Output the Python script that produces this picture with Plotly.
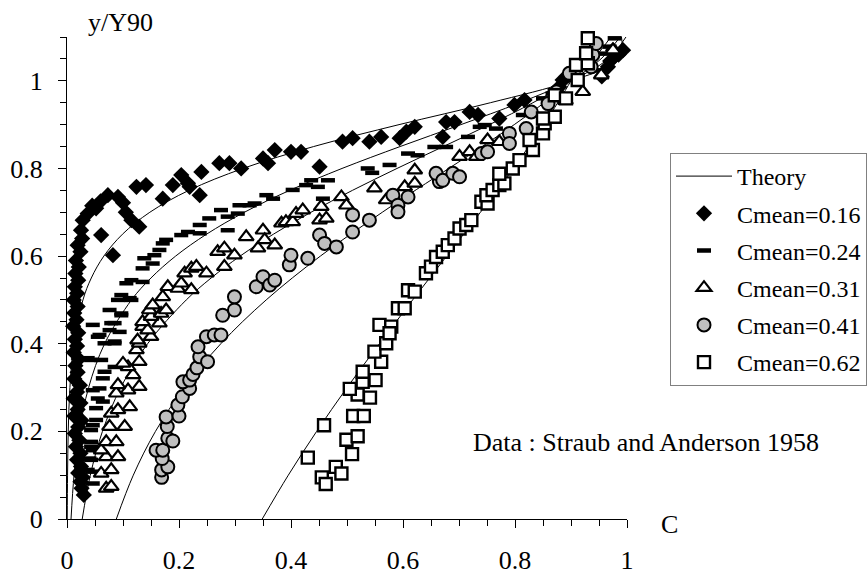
import plotly.graph_objects as go

FONT = "Liberation Serif, Times New Roman, serif"

# ---- Theory curves (y/Y90 levels and C values) ----
theory_y_a = [0, 0.1, 0.2, 0.3, 0.4, 0.5, 0.55, 0.6, 0.65, 0.7, 0.75, 0.8, 0.85, 0.9, 0.95, 1.0, 1.05, 1.1]
theory_c_016 = [0.0004, 0.001, 0.0022, 0.0052, 0.0123, 0.0285, 0.0434, 0.0658, 0.0991, 0.1479, 0.2177, 0.3142, 0.4404, 0.5929, 0.7560, 0.9, 0.9872, 0.9901]
theory_c_024 = [0.0072, 0.0126, 0.0221, 0.0386, 0.0671, 0.1152, 0.1499, 0.1940, 0.2492, 0.3167, 0.3976, 0.4911, 0.5948, 0.7034, 0.8087, 0.9, 0.9663, 0.9981]
theory_c_031 = [0.0272, 0.0416, 0.0633, 0.0959, 0.1439, 0.2130, 0.2574, 0.3091, 0.3686, 0.4356, 0.5097, 0.5893, 0.6720, 0.7543, 0.8320, 0.9, 0.9535, 0.9878]
theory_y_b = [0, 0.1, 0.2, 0.3, 0.4, 0.5, 0.6, 0.7, 0.8, 0.85, 0.9, 0.95, 1.0, 1.05, 1.1]
theory_c_041 = [0.0881, 0.1184, 0.1580, 0.2095, 0.2747, 0.3557, 0.4525, 0.5630, 0.6818, 0.7412, 0.7986, 0.8522, 0.9, 0.9403, 0.9711]
theory_y_c = [0, 0.1, 0.2, 0.3, 0.4, 0.5, 0.6, 0.7, 0.8, 0.9, 1.0, 1.05, 1.1]
theory_c_062 = [0.3486, 0.3952, 0.4458, 0.5001, 0.5579, 0.6172, 0.6779, 0.7383, 0.7968, 0.8513, 0.9, 0.9215, 0.9408]

# ---- Data : Straub and Anderson 1958 ----
c016 = [0.030, 0.026, 0.024, 0.028, 0.020, 0.025, 0.018, 0.024, 0.016, 0.022, 0.014, 0.020, 0.026, 0.013,
        0.019, 0.024, 0.012, 0.018, 0.023, 0.013, 0.019, 0.015, 0.021, 0.012, 0.018, 0.014, 0.020, 0.011,
        0.017, 0.013, 0.019, 0.012, 0.018, 0.014, 0.020, 0.015, 0.021, 0.016, 0.024, 0.019, 0.027,
        0.025, 0.028, 0.037, 0.045, 0.052, 0.061, 0.060, 0.073, 0.082, 0.091, 0.100, 0.105, 0.115, 0.129,
        0.124, 0.141, 0.171, 0.189, 0.204, 0.216, 0.219, 0.237, 0.240, 0.272, 0.290, 0.311, 0.350, 0.359,
        0.371, 0.400, 0.418, 0.451, 0.492, 0.510, 0.540, 0.561, 0.594, 0.606, 0.621, 0.671, 0.677, 0.692,
        0.719, 0.734, 0.772, 0.799, 0.817, 0.879, 0.885, 0.955, 0.966, 0.970, 0.975, 0.985, 0.993]
y016 = [0.055, 0.070, 0.085, 0.095, 0.105, 0.120, 0.135, 0.150, 0.165, 0.180, 0.195, 0.210, 0.225, 0.235,
        0.250, 0.265, 0.275, 0.290, 0.305, 0.320, 0.335, 0.350, 0.365, 0.380, 0.395, 0.410, 0.425, 0.440,
        0.455, 0.470, 0.485, 0.500, 0.515, 0.530, 0.545, 0.560, 0.575, 0.590, 0.610, 0.625, 0.640,
        0.659, 0.682, 0.697, 0.715, 0.709, 0.648, 0.725, 0.739, 0.602, 0.735, 0.722, 0.700, 0.682, 0.667,
        0.758, 0.762, 0.731, 0.762, 0.785, 0.766, 0.758, 0.739, 0.792, 0.812, 0.812, 0.800, 0.823, 0.812,
        0.842, 0.838, 0.838, 0.804, 0.861, 0.869, 0.861, 0.872, 0.869, 0.884, 0.895, 0.872, 0.906, 0.906,
        0.929, 0.922, 0.914, 0.945, 0.956, 0.986, 1.002, 1.010, 1.032, 1.045, 1.070, 1.060, 1.070]

c024 = [0.046, 0.046, 0.037, 0.043, 0.040, 0.046, 0.043, 0.043, 0.043, 0.046, 0.052, 0.052, 0.064, 0.055,
        0.046, 0.058, 0.064, 0.067, 0.085, 0.043, 0.061, 0.037, 0.067, 0.085, 0.085, 0.055, 0.058, 0.094,
        0.076, 0.046, 0.079, 0.085, 0.097, 0.097, 0.076, 0.091, 0.115, 0.112, 0.097, 0.106, 0.115, 0.135,
        0.135, 0.153, 0.138, 0.156, 0.165, 0.171, 0.177, 0.204, 0.216, 0.237, 0.237, 0.254, 0.287, 0.287,
        0.275, 0.305, 0.308, 0.326, 0.335, 0.356, 0.368, 0.403, 0.427, 0.436, 0.448, 0.457, 0.466, 0.537,
        0.545, 0.576, 0.609, 0.626, 0.656, 0.677, 0.716, 0.737, 0.746, 0.766, 0.814, 0.850, 0.867, 0.951,
        0.957, 0.969, 0.978]
y024 = [0.081, 0.108, 0.112, 0.135, 0.138, 0.157, 0.165, 0.176, 0.203, 0.214, 0.226, 0.253, 0.268, 0.275,
        0.294, 0.298, 0.321, 0.336, 0.347, 0.363, 0.363, 0.367, 0.401, 0.401, 0.405, 0.416, 0.420, 0.427,
        0.431, 0.443, 0.447, 0.447, 0.465, 0.469, 0.477, 0.500, 0.500, 0.504, 0.511, 0.538, 0.545, 0.541,
        0.572, 0.583, 0.595, 0.602, 0.614, 0.629, 0.637, 0.648, 0.655, 0.652, 0.671, 0.686, 0.659, 0.690,
        0.705, 0.697, 0.716, 0.716, 0.720, 0.739, 0.731, 0.751, 0.762, 0.773, 0.758, 0.731, 0.773, 0.800,
        0.790, 0.808, 0.834, 0.830, 0.849, 0.849, 0.872, 0.895, 0.899, 0.891, 0.922, 0.960, 0.971, 1.024,
        1.062, 1.078, 1.097]

c031 = [0.070, 0.079, 0.061, 0.079, 0.070, 0.091, 0.061, 0.070, 0.088, 0.076, 0.103, 0.079, 0.091, 0.112,
        0.088, 0.109, 0.091, 0.129, 0.118, 0.109, 0.100, 0.129, 0.124, 0.129, 0.126, 0.150, 0.135, 0.144,
        0.165, 0.135, 0.150, 0.168, 0.147, 0.177, 0.153, 0.171, 0.180, 0.198, 0.204, 0.222, 0.210, 0.222,
        0.231, 0.249, 0.281, 0.269, 0.281, 0.299, 0.320, 0.341, 0.350, 0.353, 0.371, 0.383, 0.391, 0.403,
        0.409, 0.421, 0.454, 0.451, 0.463, 0.490, 0.499, 0.549, 0.570, 0.603, 0.621, 0.621, 0.701, 0.719,
        0.731, 0.751, 0.772, 0.890, 0.921, 0.954, 0.975]
y031 = [0.070, 0.074, 0.104, 0.112, 0.142, 0.142, 0.157, 0.176, 0.176, 0.211, 0.211, 0.241, 0.249, 0.256,
        0.287, 0.294, 0.306, 0.302, 0.329, 0.347, 0.355, 0.359, 0.386, 0.401, 0.408, 0.416, 0.439, 0.431,
        0.447, 0.450, 0.462, 0.469, 0.477, 0.477, 0.488, 0.507, 0.530, 0.526, 0.538, 0.523, 0.561, 0.572,
        0.576, 0.561, 0.576, 0.610, 0.618, 0.602, 0.644, 0.618, 0.659, 0.637, 0.625, 0.675, 0.678, 0.678,
        0.697, 0.705, 0.713, 0.682, 0.686, 0.735, 0.716, 0.755, 0.728, 0.758, 0.766, 0.796, 0.827, 0.838,
        0.827, 0.865, 0.861, 0.955, 0.975, 1.013, 1.070]

c041 = [0.169, 0.169, 0.180, 0.170, 0.159, 0.171, 0.180, 0.189, 0.179, 0.177, 0.200, 0.198, 0.206, 0.219,
        0.207, 0.219, 0.225, 0.232, 0.237, 0.234, 0.251, 0.249, 0.263, 0.275, 0.278, 0.299, 0.299, 0.338,
        0.350, 0.362, 0.371, 0.397, 0.400, 0.430, 0.451, 0.460, 0.481, 0.510, 0.510, 0.540, 0.582, 0.591,
        0.591, 0.609, 0.665, 0.659, 0.671, 0.689, 0.701, 0.740, 0.751, 0.790, 0.790, 0.820, 0.829, 0.859,
        0.874, 0.897, 0.936, 0.939, 0.945]
y041 = [0.095, 0.112, 0.119, 0.138, 0.157, 0.157, 0.184, 0.178, 0.211, 0.233, 0.235, 0.260, 0.279, 0.298,
        0.313, 0.317, 0.330, 0.345, 0.370, 0.393, 0.359, 0.416, 0.420, 0.420, 0.465, 0.477, 0.507, 0.530,
        0.553, 0.534, 0.545, 0.580, 0.602, 0.595, 0.648, 0.629, 0.621, 0.655, 0.694, 0.682, 0.739, 0.716,
        0.701, 0.735, 0.770, 0.789, 0.773, 0.789, 0.781, 0.834, 0.838, 0.880, 0.857, 0.891, 0.929, 0.948,
        0.975, 1.017, 1.032, 1.059, 1.085]

c062 = [0.430, 0.459, 0.455, 0.462, 0.480, 0.490, 0.499, 0.519, 0.509, 0.511, 0.530, 0.519, 0.541, 0.505,
        0.528, 0.551, 0.528, 0.561, 0.549, 0.570, 0.558, 0.579, 0.576, 0.591, 0.603, 0.609, 0.621, 0.641,
        0.650, 0.659, 0.671, 0.680, 0.692, 0.701, 0.713, 0.722, 0.740, 0.751, 0.749, 0.760, 0.772, 0.781,
        0.772, 0.796, 0.808, 0.832, 0.826, 0.850, 0.853, 0.871, 0.850, 0.871, 0.891, 0.912, 0.909, 0.930,
        0.927, 0.930]
y062 = [0.140, 0.214, 0.095, 0.080, 0.119, 0.104, 0.181, 0.189, 0.148, 0.235, 0.235, 0.284, 0.277, 0.297,
        0.313, 0.317, 0.336, 0.359, 0.382, 0.401, 0.443, 0.439, 0.424, 0.481, 0.481, 0.522, 0.519, 0.561,
        0.576, 0.598, 0.610, 0.625, 0.640, 0.663, 0.671, 0.682, 0.724, 0.720, 0.739, 0.751, 0.762, 0.766,
        0.788, 0.800, 0.819, 0.842, 0.865, 0.880, 0.903, 0.918, 0.914, 0.967, 0.960, 1.002, 1.036, 1.040,
        1.063, 1.097]

x_ticks = [0, 0.2, 0.4, 0.6, 0.8, 1]
x_tick_text = ["0", "0.2", "0.4", "0.6", "0.8", "1"]
y_ticks = [0, 0.2, 0.4, 0.6, 0.8, 1]
y_tick_text = ["0", "0.2", "0.4", "0.6", "0.8", "1"]

fig = go.Figure()

theory = [(theory_c_016, theory_y_a), (theory_c_024, theory_y_a), (theory_c_031, theory_y_a),
          (theory_c_041, theory_y_b), (theory_c_062, theory_y_c)]
for i, (cx, cy) in enumerate(theory):
    fig.add_trace(go.Scatter(x=cx, y=cy, mode="lines", line=dict(color="black", width=1, shape="spline"),
                             name="Theory", legendgroup="theory", showlegend=(i == 0), cliponaxis=False))

fig.add_trace(go.Scatter(x=c016, y=y016, mode="markers", name="Cmean=0.16", legendgroup="g1",
                         marker=dict(symbol="diamond", size=12.5, color="black", line=dict(width=0)),
                         cliponaxis=False))
fig.add_trace(go.Scatter(x=c024, y=y024, mode="markers", name="Cmean=0.24", legendgroup="g2",
                         marker=dict(symbol="line-ew", size=10, color="black",
                                     line=dict(width=4.5, color="black")),
                         cliponaxis=False))
fig.add_trace(go.Scatter(x=c031, y=y031, mode="markers", name="Cmean=0.31", legendgroup="g3",
                         marker=dict(symbol="triangle-up", size=13, color="white",
                                     line=dict(width=2.2, color="black")),
                         cliponaxis=False))
fig.add_trace(go.Scatter(x=c041, y=y041, mode="markers", name="Cmean=0.41", legendgroup="g4",
                         marker=dict(symbol="circle", size=13, color="#c0c0c0",
                                     line=dict(width=2, color="black")),
                         cliponaxis=False))
fig.add_trace(go.Scatter(x=c062, y=y062, mode="markers", name="Cmean=0.62", legendgroup="g5",
                         marker=dict(symbol="square", size=12, color="white",
                                     line=dict(width=2.4, color="black")),
                         cliponaxis=False))

axis_common = dict(showline=True, linecolor="black", linewidth=1, showgrid=False, zeroline=False,
                   ticks="outside", ticklen=8, tickwidth=1, tickcolor="black", automargin=False,
                   tickfont=dict(family=FONT, size=26, color="black"))

fig.update_xaxes(range=[0, 1], tickvals=x_ticks, ticktext=x_tick_text, ticklabelstandoff=10,
                 minor=dict(dtick=0.05, ticks="outside", ticklen=6, tickcolor="black", showgrid=False),
                 **axis_common)
fig.update_yaxes(range=[0, 1.1], tickvals=y_ticks, ticktext=y_tick_text, ticklabelstandoff=10,
                 minor=dict(dtick=0.05, ticks="outside", ticklen=6, tickcolor="black", showgrid=False),
                 **axis_common)

fig.add_annotation(text="y/Y90", xref="paper", yref="paper", x=(86 - 67) / 560, y=1 + (37 - 22) / 482,
                   xanchor="left", yanchor="middle", showarrow=False,
                   font=dict(family=FONT, size=26, color="black"))
fig.add_annotation(text="C", xref="paper", yref="paper", x=(669 - 67) / 560, y=-(524 - 519) / 482,
                   xanchor="center", yanchor="middle", showarrow=False,
                   font=dict(family=FONT, size=26, color="black"))
fig.add_annotation(text="Data : Straub and Anderson 1958", xref="paper", yref="paper",
                   x=(471 - 67) / 560, y=(519 - 442) / 482, xanchor="left", yanchor="middle",
                   showarrow=False, font=dict(family=FONT, size=26, color="black"))

fig.update_layout(
    width=867, height=576, autosize=False,
    margin=dict(l=67, r=240, t=37, b=57, autoexpand=False),
    paper_bgcolor="white", plot_bgcolor="white",
    font=dict(family=FONT, size=24, color="black"),
    legend=dict(x=(670 - 67) / 560, y=1 - (153 - 37) / 482, xanchor="left", yanchor="top",
                bgcolor="white", bordercolor="#808080", borderwidth=1,
                font=dict(family=FONT, size=24, color="black"),
                traceorder="grouped", tracegroupgap=3, itemwidth=56),
)

fig.write_html("out.html", config={"displayModeBar": False},
               post_script="document.body.style.margin='0';document.body.style.overflow='hidden';")
